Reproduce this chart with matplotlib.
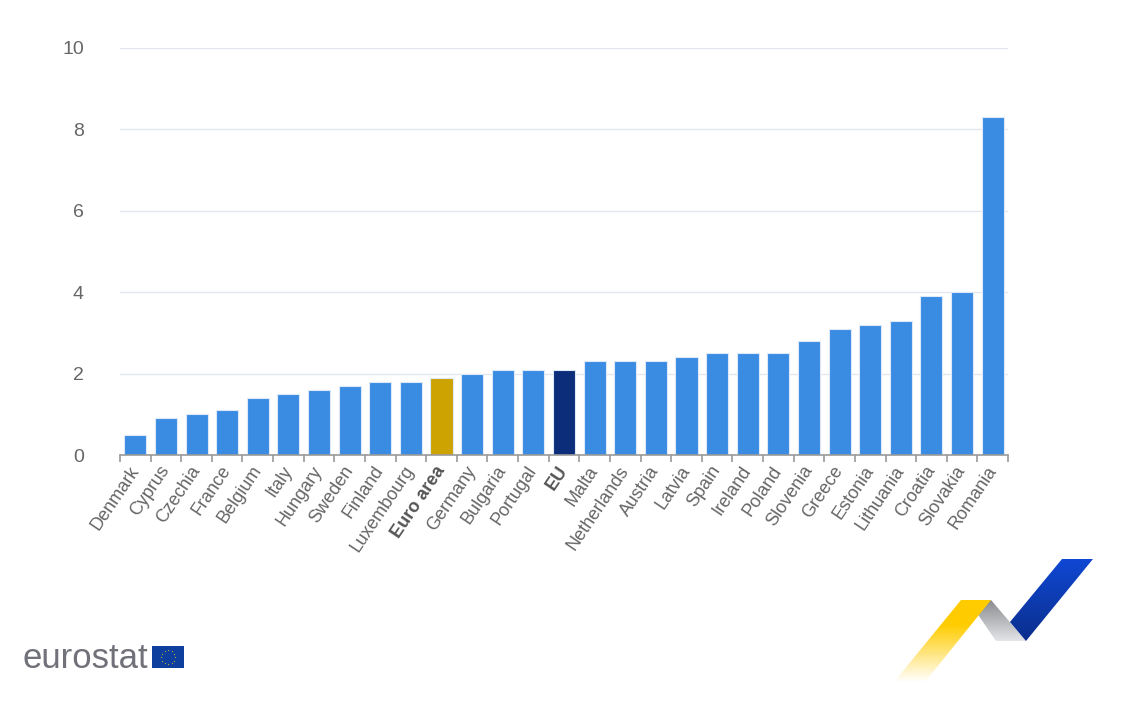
import numpy as np
import matplotlib.pyplot as plt
from matplotlib.patches import Polygon, Rectangle
from matplotlib import colors as mcolors

plt.rcParams['font.family'] = ['Liberation Sans', 'DejaVu Sans']

countries = ["Denmark", "Cyprus", "Czechia", "France", "Belgium", "Italy", "Hungary",
             "Sweden", "Finland", "Luxembourg", "Euro area", "Germany", "Bulgaria",
             "Portugal", "EU", "Malta", "Netherlands", "Austria", "Latvia", "Spain",
             "Ireland", "Poland", "Slovenia", "Greece", "Estonia", "Lithuania",
             "Croatia", "Slovakia", "Romania"]
values = [0.5, 0.9, 1.0, 1.1, 1.4, 1.5, 1.6, 1.7, 1.8, 1.8, 1.9, 2.0, 2.1, 2.1, 2.1,
          2.3, 2.3, 2.3, 2.4, 2.5, 2.5, 2.5, 2.8, 3.1, 3.2, 3.3, 3.9, 4.0, 8.3]
yticks = [0, 2, 4, 6, 8, 10]

W, H = 1131, 701
fig = plt.figure(figsize=(W / 100, H / 100), dpi=100)
ax = fig.add_axes([120 / W, 1 - 455 / H, 888 / W, 407 / H])

colors = []
for c in countries:
    if c == "Euro area":
        colors.append("#cca300")
    elif c == "EU":
        colors.append("#0b2d7a")
    else:
        colors.append("#3a8be2")

x = np.arange(len(countries))
ax.bar(x, values, width=0.72, color=colors, edgecolor="#dde8f8", linewidth=0.8, zorder=3)

ax.set_xlim(-0.5, len(countries) - 0.5)
ax.set_ylim(0, 10)
ax.set_yticks(yticks)
ax.set_yticklabels([str(v) for v in yticks])
ax.tick_params(axis="y", length=0, pad=26, labelsize=14, labelcolor="#666666")
ax.grid(axis="y", color="#e3e6f0", linewidth=1, zorder=0)
ax.set_axisbelow(True)

for s in ["top", "right", "left"]:
    ax.spines[s].set_visible(False)
ax.spines["bottom"].set_color("#999999")
ax.spines["bottom"].set_linewidth(1.2)
ax.spines["bottom"].set_zorder(4)

ax.set_xticks(x)
ax.set_xticks(np.arange(len(countries) + 1) - 0.5, minor=True)
ax.tick_params(axis="x", which="major", length=0, pad=9)
ax.tick_params(axis="x", which="minor", length=5, color="#999999", width=1.2)
ax.set_xticklabels(countries, rotation=56, ha="right", va="center",
                   rotation_mode="anchor", fontsize=13, color="#666666")
for lab in ax.get_xticklabels():
    if lab.get_text() in ("Euro area", "EU"):
        lab.set_fontweight("bold")
        lab.set_color("#555555")

# logos drawn in pixel coordinates
ov = fig.add_axes([0, 0, 1, 1])
ov.axis("off")


def grad_poly(pts, c_top, c_bot, hold=0.0):
    poly = Polygon(pts, closed=True, facecolor="none", edgecolor="none")
    ov.add_patch(poly)
    t = np.clip((np.linspace(0, 1, 200) - hold) / (1 - hold), 0, 1)[:, None, None]
    c0 = np.array(mcolors.to_rgb(c_top))[None, None, :]
    c1 = np.array(mcolors.to_rgb(c_bot))[None, None, :]
    img = c0 * (1 - t) + c1 * t
    xs = [p[0] for p in pts]
    ys = [p[1] for p in pts]
    im = ov.imshow(img, extent=[min(xs), max(xs), max(ys), min(ys)], aspect="auto", zorder=5)
    im.set_clip_path(poly)


grad_poly([(968, 600), (991, 600), (1026, 641), (996, 641)], "#8a8b8f", "#e4e5e8")
grad_poly([(1062, 559), (1093, 559), (1026, 641), (1010, 622)], "#1048d4", "#0a2e8c")
grad_poly([(961, 600), (991, 600), (925, 682), (894, 682)], "#ffcc00", "#ffffff", hold=0.3)
ov.set_xlim(0, W)
ov.set_ylim(H, 0)

ov.text(22, 668, "eurostat", fontsize=25, color="#707179", ha="left", va="baseline")
ov.add_patch(Rectangle((152, 646), 32, 22, facecolor="#0e3f9e", edgecolor="none"))
ang = np.linspace(0, 2 * np.pi, 13)[:-1]
ov.scatter(168 + 7 * np.cos(ang), 657 + 7 * np.sin(ang), s=1.5, marker="*",
           color="#ffdd00", linewidths=0)

fig.savefig("out.png", dpi=100)
